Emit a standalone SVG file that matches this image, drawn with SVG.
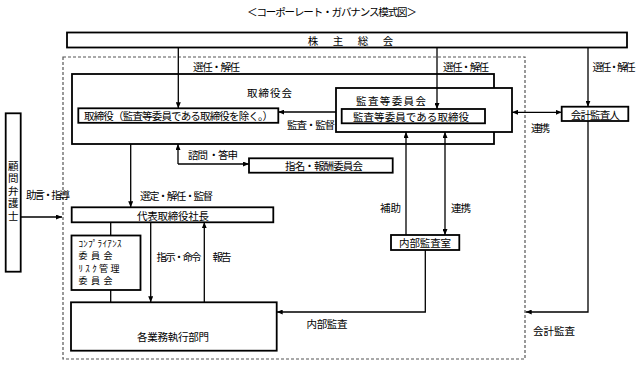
<svg xmlns="http://www.w3.org/2000/svg" width="644" height="365" viewBox="0 0 644 365">
<defs>
<style>
text{font-family:"Noto Sans CJK JP","Noto Sans",sans-serif;font-size:10.5px;fill:#000;dominant-baseline:central}
.m{text-anchor:middle}
.box{fill:#fff;stroke:#000;stroke-width:1.8}
.ln{fill:none;stroke:#000;stroke-width:1.3}
.arr{marker-end:url(#ah)}
.bi{marker-start:url(#ah);marker-end:url(#ah)}
.dash{fill:none;stroke:#555;stroke-width:1.2;stroke-dasharray:3 2}
.sm{font-size:9px}
</style>
<marker id="ah" viewBox="0 0 6 5" refX="6" refY="2.5" markerWidth="6" markerHeight="5" markerUnits="userSpaceOnUse" orient="auto-start-reverse">
<path d="M0,0 L6,2.5 L0,5 z" fill="#000"/>
</marker>
</defs>
<rect width="644" height="365" fill="#fff"/>
<text class="m" x="332" y="11" font-size="11" textLength="170" lengthAdjust="spacing">＜コーポーレート・ガバナンス模式図＞</text>

<rect class="dash" x="63" y="57" width="462" height="302"/>

<g id="shareholders">
<rect class="box" x="67" y="32.5" width="560" height="15"/>
<text class="m" x="313 338 363 388" y="40">株主総会</text>
</g>

<g id="board">
<rect class="box" x="72" y="74" width="422" height="70"/>
<text class="m" x="269.5" y="92" textLength="45" lengthAdjust="spacing">取締役会</text>
</g>

<g id="audit-committee">
<rect class="box" x="336" y="88" width="176" height="44"/>
<text class="m" x="391" y="100" textLength="70" lengthAdjust="spacing">監査等委員会</text>
</g>

<g id="connectors">
<path class="ln arr" d="M178.3,47.5 V108.3"/>
<path class="ln arr" d="M437,47.5 V109"/>
<path class="ln arr" d="M588,47.5 V106.7"/>
<path class="ln arr" d="M336,112 H278.3"/>
<path class="ln bi" d="M512,112.3 H561.7"/>
<path class="ln arr" d="M588,121 V312 H525.7"/>
<path class="ln arr" d="M178,164 V144"/>
<path class="ln arr" d="M178,164 H249"/>
<path class="ln arr" d="M130.7,144 V207.3"/>
<path class="ln arr" d="M20.7,217 H62"/>
<path class="ln" d="M110.7,222.3 V235.5"/>
<path class="ln" d="M110.7,290 V302.3"/>
<path class="ln arr" d="M150.7,222.3 V302.3"/>
<path class="ln arr" d="M204.3,302.3 V222.3"/>
<path class="ln arr" d="M406,235 V132"/>
<path class="ln bi" d="M445,132 V235"/>
<path class="ln arr" d="M425.3,250 V312 H276.7"/>
</g>

<g id="directors">
<rect class="box" x="78.3" y="108.3" width="200" height="14.5"/>
<text class="m" x="178.5" y="115.5" textLength="189" lengthAdjust="spacing">取締役（監査等委員である取締役を除く。）</text>
</g>

<g id="audit-directors">
<rect class="box" x="341.7" y="109" width="143.3" height="14.3"/>
<text class="m" x="411" y="116" textLength="116" lengthAdjust="spacing">監査等委員である取締役</text>
</g>

<g id="accounting-auditor">
<rect class="box" x="561.7" y="106.7" width="66.6" height="14.3"/>
<text class="m" x="595.3" y="114" textLength="49" lengthAdjust="spacing">会計監査人</text>
</g>

<g id="nomination">
<rect class="box" x="249" y="158.3" width="143.7" height="14.4"/>
<text class="m" x="324" y="165.5" textLength="78" lengthAdjust="spacing">指名・報酬委員会</text>
</g>

<g id="president">
<rect class="box" x="71.7" y="207.3" width="201.6" height="15"/>
<text class="m" x="173" y="215" textLength="72" lengthAdjust="spacing">代表取締役社長</text>
</g>

<g id="lawyer">
<rect class="box" x="5.7" y="113.3" width="15" height="158.4"/>
<text class="m" x="13.2" y="192" writing-mode="vertical-rl" style="writing-mode:vertical-rl" letter-spacing="2">顧問弁護士</text>
</g>

<g id="compliance">
<rect class="box" x="71.5" y="235.5" width="69" height="54.5"/>
<text class="sm" x="78.5" y="243" textLength="43" lengthAdjust="spacing">ｺﾝﾌﾟﾗｲｱﾝｽ</text>
<text class="sm" x="78.5" y="255.5" textLength="34" lengthAdjust="spacing">委員会</text>
<text class="sm" x="78.5" y="268" textLength="41" lengthAdjust="spacing">ﾘｽｸ管理</text>
<text class="sm" x="78.5" y="280.5" textLength="34" lengthAdjust="spacing">委員会</text>
</g>

<g id="business">
<rect class="box" x="71" y="302.3" width="205.7" height="48.4"/>
<text class="m" x="173" y="336.5" textLength="72" lengthAdjust="spacing">各業務執行部門</text>
</g>

<g id="internal-audit">
<rect class="box" x="391" y="235" width="68.3" height="15"/>
<text class="m" x="425" y="242.5" textLength="52" lengthAdjust="spacing">内部監査室</text>
</g>

<g id="labels">
<text class="m" x="216.5" y="66" textLength="47" lengthAdjust="spacing">選任・解任</text>
<text class="m" x="466" y="66" textLength="46" lengthAdjust="spacing">選任・解任</text>
<text class="m" x="614" y="66" textLength="43" lengthAdjust="spacing">選任・解任</text>
<text class="m" x="311" y="124.5" textLength="48" lengthAdjust="spacing">監査・監督</text>
<text class="m" x="540.5" y="127" textLength="19" lengthAdjust="spacing">連携</text>
<text class="m" x="213" y="154" textLength="50" lengthAdjust="spacing">諮問 ・答申</text>
<text class="m" x="176.5" y="195" textLength="73" lengthAdjust="spacing">選定・解任・監督</text>
<text class="m" x="48" y="194" textLength="44" lengthAdjust="spacing">助言・指導</text>
<text class="m" x="390.5" y="207" textLength="21" lengthAdjust="spacing">補助</text>
<text class="m" x="461" y="207" textLength="20" lengthAdjust="spacing">連携</text>
<text class="m" x="179" y="256" textLength="45" lengthAdjust="spacing">指示・命令</text>
<text class="m" x="222" y="256" textLength="19" lengthAdjust="spacing">報告</text>
<text class="m" x="327" y="323.5" textLength="41" lengthAdjust="spacing">内部監査</text>
<text class="m" x="554" y="330" textLength="42" lengthAdjust="spacing">会計監査</text>
</g>
</svg>
